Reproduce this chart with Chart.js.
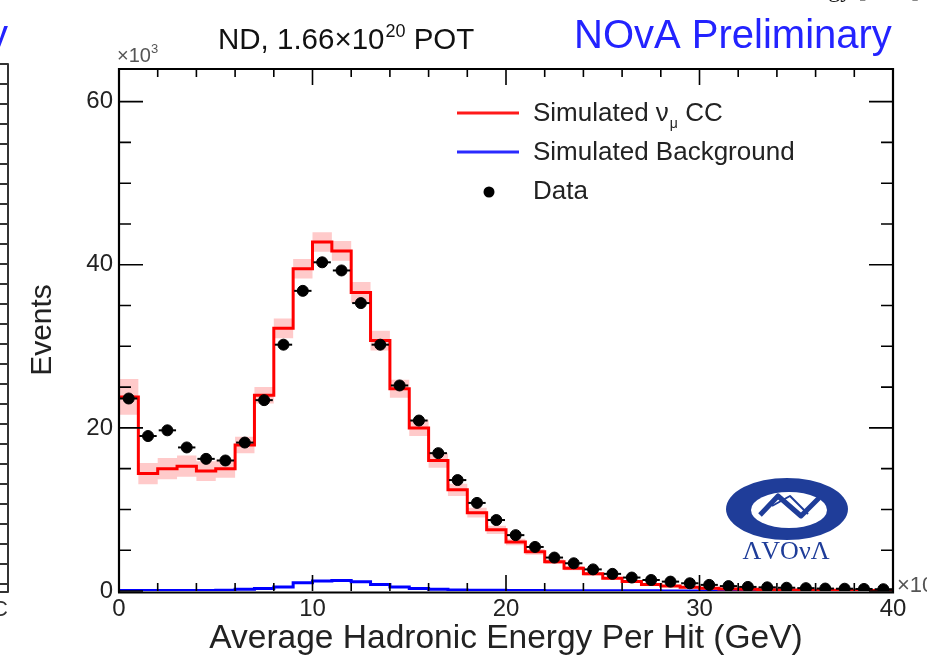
<!DOCTYPE html>
<html lang="en">
<head>
<meta charset="UTF-8">
<title>Average Hadronic Energy Per Hit</title>
<script src="https://cdn.jsdelivr.net/npm/chart.js"></script>
<style>
  html, body { margin: 0; padding: 0; background: #fff; }
</style>
</head>
<body>
<canvas id="chart" width="927" height="657"></canvas>
<script>
// bin edges (GeV) and contents (x10^3 events)
const binEdges = [0,1,2,3,4,5,6,7,8,9,10,11,12,13,14,15,16,17,18,19,20,
                  21,22,23,24,25,26,27,28,29,30,31,32,33,34,35,36,37,38,39,40];
const simCC = [23.8,14.4,15.0,15.3,14.7,15.0,17.9,24.0,32.2,39.5,42.8,41.7,36.6,30.7,24.8,20.0,16.0,12.4,9.6,7.5,
               6.0,4.8,3.6,2.8,2.1,1.55,1.15,0.8,0.6,0.45,0.35,0.25,0.2,0.15,0.12,0.1,0.08,0.06,0.05,0.04];
const simErr = [2.2,1.3,1.3,1.3,1.2,1.1,1.0,1.0,1.2,1.2,1.2,1.2,1.3,1.2,1.1,1.0,0.9,0.75,0.6,0.5,
                0.4,0.35,0.3,0.25,0.2,0.15,0.12,0.1,0.08,0.06,0.05,0.04,0.03,0.03,0.02,0.02,0.02,0.02,0.02,0.02];
const simBkg = [0.05,0.05,0.05,0.05,0.05,0.08,0.2,0.3,0.5,1.0,1.22,1.3,1.14,0.8,0.5,0.3,0.2,0.12,0.1,0.08,
                0.06,0.05,0.04,0.03,0.03,0.02,0.02,0.02,0.01,0.01,0.01,0.01,0.01,0.01,0.01,0.01,0.01,0.01,0.01,0.01];
const dataEvents = [23.6,19.0,19.7,17.6,16.2,16.0,18.2,23.4,30.2,36.8,40.3,39.3,35.3,30.2,25.2,20.9,16.9,13.6,10.8,8.7,
                    6.85,5.4,4.1,3.4,2.65,2.1,1.65,1.35,1.15,0.95,0.75,0.6,0.5,0.45,0.4,0.35,0.3,0.28,0.25,0.22];
const xTicks = [0, 10, 20, 30, 40];
const yTicks = [0, 20, 40, 60];

const FONT = "'Liberation Sans', Arial, sans-serif";

// histogram as a step line: one point per left edge, last value repeated at the end
function stepPoints(vals) {
  return binEdges.map((e, i) => ({ x: e, y: vals[Math.min(i, vals.length - 1)] }));
}
const centers = binEdges.slice(0, -1).map((e, i) => (e + binEdges[i + 1]) / 2);

const decor = {
  id: 'decor',
  afterDatasetsDraw(chart) {
    const { ctx, chartArea: a, scales: { x, y } } = chart;
    ctx.save();

    // horizontal error bars on data
    ctx.strokeStyle = '#000';
    ctx.lineWidth = 2;
    dataEvents.forEach((v, i) => {
      const py = y.getPixelForValue(v);
      ctx.beginPath();
      ctx.moveTo(x.getPixelForValue(binEdges[i]) + 1, py);
      ctx.lineTo(x.getPixelForValue(binEdges[i + 1]) - 1, py);
      ctx.stroke();
    });

    // frame (bottom edge a touch low so the background line shows) + inward ticks
    ctx.lineWidth = 2.2;
    ctx.beginPath();
    ctx.moveTo(a.left, a.bottom + 1.5); ctx.lineTo(a.left, a.top); ctx.lineTo(a.right, a.top);
    ctx.lineTo(a.right, a.bottom + 1.5); ctx.lineTo(a.left - 1, a.bottom + 1.5);
    ctx.stroke();
    ctx.lineWidth = 1.6;
    ctx.beginPath();
    for (let v = x.min; v <= x.max; v += 2) {
      const px = x.getPixelForValue(v), len = v % 10 === 0 ? 16 : 8;
      ctx.moveTo(px, a.bottom); ctx.lineTo(px, a.bottom - len);
      ctx.moveTo(px, a.top); ctx.lineTo(px, a.top + len);
    }
    for (let v = 0; v <= y.max; v += 5) {
      const py = y.getPixelForValue(v), len = v % 20 === 0 ? 24 : 12;
      ctx.moveTo(a.left, py); ctx.lineTo(a.left + len, py);
      ctx.moveTo(a.right, py); ctx.lineTo(a.right - len, py);
    }
    ctx.stroke();

    // exponent labels
    ctx.fillStyle = '#555';
    ctx.textBaseline = 'alphabetic';
    ctx.font = '20px ' + FONT;
    ctx.fillText('\u00d710', a.left - 2, a.top - 7);
    let tx = a.left - 2 + ctx.measureText('\u00d710').width;
    ctx.font = '13px ' + FONT;
    ctx.fillText('3', tx, a.top - 16);
    ctx.font = '22px ' + FONT;
    ctx.fillText('\u00d710', a.right + 4, a.bottom + 1);

    // legend
    ctx.lineWidth = 3;
    ctx.strokeStyle = '#ff1a1a';
    ctx.beginPath(); ctx.moveTo(457, 113); ctx.lineTo(519, 113); ctx.stroke();
    ctx.strokeStyle = '#2a2aff';
    ctx.beginPath(); ctx.moveTo(457, 152); ctx.lineTo(519, 152); ctx.stroke();
    ctx.fillStyle = '#000';
    ctx.beginPath(); ctx.arc(489, 192, 5.5, 0, Math.PI * 2); ctx.fill();
    ctx.fillStyle = '#222';
    ctx.textBaseline = 'middle';
    ctx.font = '26px ' + FONT;
    tx = 533;
    ctx.fillText('Simulated \u03bd', tx, 114);
    tx += ctx.measureText('Simulated \u03bd').width;
    ctx.font = '14px ' + FONT;
    ctx.fillText('\u03bc', tx + 1, 124);
    tx += ctx.measureText('\u03bc').width + 1;
    ctx.font = '26px ' + FONT;
    ctx.fillText(' CC', tx, 114);
    ctx.fillText('Simulated Background', 533, 153);
    ctx.fillText('Data', 533, 192);

    // top titles
    ctx.textBaseline = 'alphabetic';
    ctx.fillStyle = '#111';
    ctx.font = '29.5px ' + FONT;
    tx = 218;
    ctx.fillText('ND, 1.66\u00d710', tx, 49);
    tx += ctx.measureText('ND, 1.66\u00d710').width;
    ctx.font = '18px ' + FONT;
    ctx.fillText('20', tx + 1, 37);
    tx += ctx.measureText('20').width + 1;
    ctx.font = '29.5px ' + FONT;
    ctx.fillText(' POT', tx, 49);
    ctx.fillStyle = '#2323ff';
    ctx.font = '40px ' + FONT;
    ctx.fillText('NOvA Preliminary', 574, 48);

    // NOvA logo
    const blue = '#1f3d99';
    ctx.fillStyle = blue;
    ctx.beginPath(); ctx.ellipse(787, 509, 61, 31, 0, 0, Math.PI * 2); ctx.fill();
    ctx.fillStyle = '#fff';
    ctx.beginPath(); ctx.ellipse(789, 510, 38, 18, 0, 0, Math.PI * 2); ctx.fill();
    ctx.strokeStyle = blue;
    ctx.lineWidth = 5;
    ctx.lineJoin = 'round';
    ctx.beginPath();
    ctx.moveTo(760, 515); ctx.lineTo(778, 496); ctx.lineTo(801, 516); ctx.lineTo(819, 498);
    ctx.stroke();
    ctx.lineWidth = 2;
    ctx.beginPath(); ctx.moveTo(772, 506); ctx.lineTo(790, 496); ctx.lineTo(808, 514); ctx.stroke();
    ctx.fillStyle = blue;
    ctx.font = "26px 'Liberation Serif', serif";
    ctx.textAlign = 'center';
    ctx.fillText('\u039bVO\u03bd\u039b', 786, 559);
    ctx.textAlign = 'left';

    // fragments of the neighbouring panels
    ctx.strokeStyle = '#333';
    ctx.lineWidth = 2;
    ctx.beginPath();
    ctx.moveTo(0, 64); ctx.lineTo(8, 64); ctx.lineTo(8, 592); ctx.lineTo(0, 592);
    for (let py = 84; py < 590; py += 20) { ctx.moveTo(0, py); ctx.lineTo(8, py); }
    ctx.stroke();
    ctx.fillStyle = '#2323ff';
    ctx.font = '40px ' + FONT;
    ctx.fillText('y', -12, 48);
    ctx.fillStyle = '#333';
    ctx.font = '22px ' + FONT;
    ctx.fillText('C', -8, 616);
    ctx.fillStyle = '#111';
    ctx.font = "24px 'Liberation Serif', serif";
    ctx.fillText('ergy [GeV]', 810, -3);

    ctx.restore();
  }
};

new Chart(document.getElementById('chart'), {
  data: {
    datasets: [
      {
        type: 'scatter', label: 'Data',
        data: centers.map((c, i) => ({ x: c, y: dataEvents[i] })),
        backgroundColor: '#000', borderColor: '#000', pointRadius: 5.5, pointHoverRadius: 5.5
      },
      {
        type: 'line', label: 'Simulated \u03bd\u03bc CC', data: stepPoints(simCC),
        stepped: true, borderColor: '#ff0000', borderWidth: 3, pointRadius: 0, fill: false
      },
      {
        type: 'line', label: 'Simulated Background', data: stepPoints(simBkg),
        stepped: true, borderColor: '#0000ff', borderWidth: 3, pointRadius: 0, fill: false
      },
      {
        type: 'line', label: 'band hi', data: stepPoints(simCC.map((v, i) => v + simErr[i])),
        stepped: true, borderWidth: 0, pointRadius: 0, fill: '+1', backgroundColor: 'rgba(255,150,150,0.5)'
      },
      {
        type: 'line', label: 'band lo', data: stepPoints(simCC.map((v, i) => Math.max(0, v - simErr[i]))),
        stepped: true, borderWidth: 0, pointRadius: 0, fill: false
      }
    ]
  },
  options: {
    responsive: false,
    animation: false,
    layout: { padding: { top: 69, right: 34, left: 0, bottom: 0 } },
    plugins: { legend: { display: false }, tooltip: { enabled: false } },
    scales: {
      x: {
        type: 'linear', min: 0, max: 40,
        afterBuildTicks: s => { s.ticks = xTicks.map(v => ({ value: v })); },
        afterFit: s => { s.height = 66; },
        grid: { display: false, drawTicks: false },
        border: { display: false },
        ticks: { font: { family: FONT, size: 24 }, color: '#222', padding: 4, maxRotation: 0, autoSkip: false },
        title: {
          display: true, text: 'Average Hadronic Energy Per Hit (GeV)', color: '#222',
          font: { family: FONT, size: 33.5, lineHeight: 1 }, padding: { top: 0, bottom: 1 }
        }
      },
      y: {
        type: 'linear', min: 0, max: 64,
        afterBuildTicks: s => { s.ticks = yTicks.map(v => ({ value: v })); },
        afterFit: s => { s.width = 119; },
        grid: { display: false, drawTicks: false },
        border: { display: false },
        ticks: { font: { family: FONT, size: 24 }, color: '#222', padding: 6 },
        title: {
          display: true, text: 'Events', color: '#222',
          font: { family: FONT, size: 30, lineHeight: 1 }, padding: { top: 28, bottom: 0 }
        }
      }
    }
  },
  plugins: [decor]
});
</script>
</body>
</html>
